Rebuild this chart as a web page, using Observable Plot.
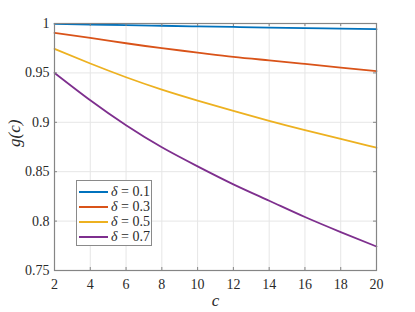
<!DOCTYPE html>
<html>
<head>
<meta charset="utf-8">
<script src="https://cdn.jsdelivr.net/npm/d3@7"></script>
<script src="https://cdn.jsdelivr.net/npm/@observablehq/plot@0.6"></script>
<style>
  html, body { margin: 0; padding: 0; background: #fff; }
  #wrap { position: relative; width: 415px; height: 312px; font-family: 'Liberation Serif', 'Times New Roman', serif; }
  #legend { position: absolute; left: 76px; top: 180px; width: 76px; height: 66px; background: #fff; border: 1px solid #8a8a8a; box-sizing: border-box; }
  .row { position: absolute; left: 0; height: 15px; display: flex; align-items: center; font-size: 14px; color: #2a2a2a; white-space: nowrap; }
  .sw { width: 29px; height: 0; border-top: 2px solid; margin-left: 2px; margin-right: 3px; }
</style>
</head>
<body>
<div id="wrap"><div id="chart"></div><div id="legend"></div></div>
<script>
const cValues = [2, 4, 6, 8, 10, 12, 14, 16, 18, 20];
const deltas = ["0.1", "0.3", "0.5", "0.7"];
const g01 = [0.9997, 0.9990, 0.9984, 0.9977, 0.9971, 0.9965, 0.9959, 0.9954, 0.9948, 0.9943];
const g03 = [0.9905, 0.9855, 0.9800, 0.9750, 0.9706, 0.9662, 0.9627, 0.9591, 0.9554, 0.9517];
const g05 = [0.9743, 0.9595, 0.9456, 0.9331, 0.9220, 0.9115, 0.9014, 0.8920, 0.8831, 0.8743];
const g07 = [0.9500, 0.9223, 0.8970, 0.8747, 0.8554, 0.8372, 0.8206, 0.8041, 0.7889, 0.7743];
const colors = ["#0072BD", "#D95319", "#EDB120", "#7E2F8E"];
const xTicks = [2, 4, 6, 8, 10, 12, 14, 16, 18, 20];
const yTicks = [0.75, 0.8, 0.85, 0.9, 0.95, 1];
const yTickLabels = ["0.75", "0.8", "0.85", "0.9", "0.95", "1"];

const series = [g01, g03, g05, g07];
const data = [];
series.forEach((s, i) => s.forEach((v, j) => data.push({c: cValues[j], g: v, delta: deltas[i]})));

const W = 415, H = 312, mL = 54, mR = 39, mT = 23, mB = 42;
const innerW = W - mL - mR, innerH = H - mT - mB, tl = 3;
const serif = "Liberation Serif";
const axisGray = "#858585";

const chart = Plot.plot({
  width: W, height: H,
  marginLeft: mL, marginRight: mR, marginTop: mT, marginBottom: mB,
  style: {fontFamily: serif, fontSize: "14px", color: "#2a2a2a", background: "#fff"},
  x: {domain: [2, 20]},
  y: {domain: [0.75, 1]},
  color: {domain: deltas, range: colors},
  marks: [
    Plot.ruleX(xTicks, {x: d => d, stroke: "#e6e6e6", strokeWidth: 1}),
    Plot.ruleY(yTicks, {y: d => d, stroke: "#e6e6e6", strokeWidth: 1}),
    Plot.line(data, {x: "c", y: "g", z: "delta", stroke: "delta", strokeWidth: 1.8, curve: "natural"}),
    Plot.tickX(xTicks, {x: d => d, insetTop: innerH - tl, stroke: axisGray}),
    Plot.tickX(xTicks, {x: d => d, insetBottom: innerH - tl, stroke: axisGray}),
    Plot.tickY(yTicks, {y: d => d, insetRight: innerW - tl, stroke: axisGray}),
    Plot.tickY(yTicks, {y: d => d, insetLeft: innerW - tl, stroke: axisGray}),
    Plot.frame({stroke: axisGray, strokeWidth: 1.2}),
    Plot.axisX(xTicks, {tickSize: 0, tickPadding: 9, label: null, fontSize: 14, fontFamily: serif}),
    Plot.axisY(yTicks, {tickSize: 0, tickPadding: 5, label: null, tickFormat: (d, i) => yTickLabels[i], fontSize: 14, fontFamily: serif}),
    Plot.text(["c"], {frameAnchor: "bottom", dy: 35, fontStyle: "italic", fontSize: 17, fontFamily: serif}),
    Plot.text(["g(c)"], {frameAnchor: "left", dx: -40, rotate: -90, fontStyle: "italic", fontSize: 17, fontFamily: serif})
  ]
});
document.getElementById("chart").appendChild(chart);

const legend = document.getElementById("legend");
deltas.forEach((d, i) => {
  const row = document.createElement("div");
  row.className = "row";
  row.style.top = (3 + i * 15) + "px";
  row.innerHTML = `<span class="sw" style="border-color:${colors[i]}"></span><span><i>δ</i> = ${d}</span>`;
  legend.appendChild(row);
});
</script>
</body>
</html>
